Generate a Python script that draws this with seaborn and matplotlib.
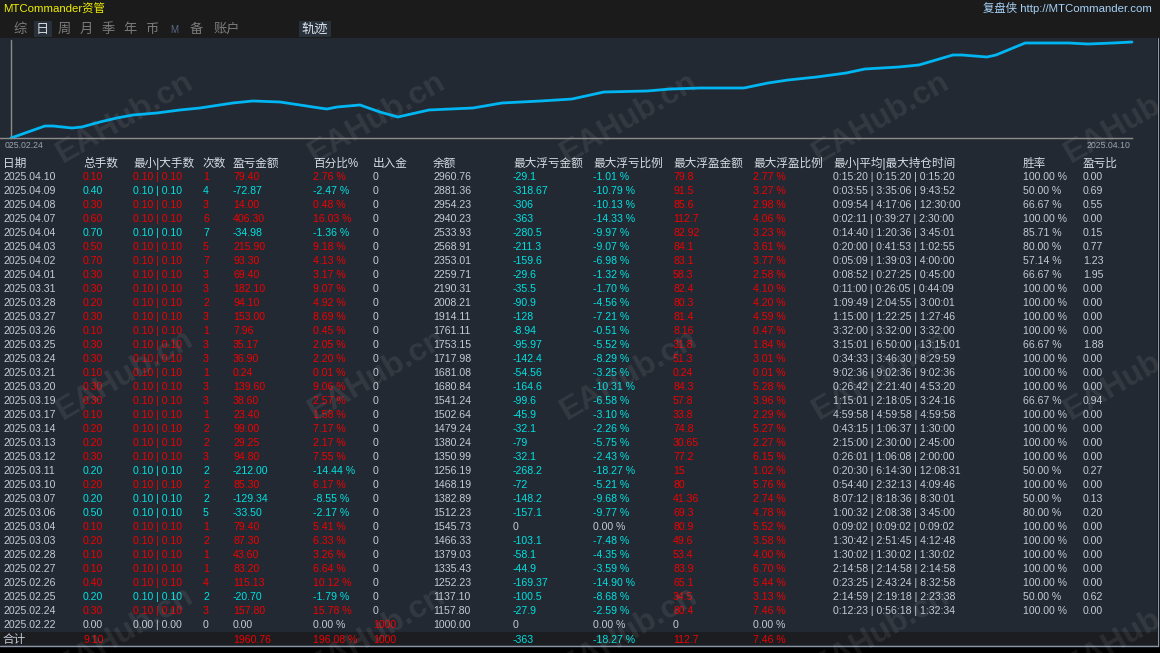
import matplotlib
matplotlib.use('Agg')
import matplotlib.pyplot as plt
from matplotlib.patches import Rectangle
import numpy as np
import pandas as pd
import seaborn as sns

# ---------------- data ----------------
dates = ['2025.04.10', '2025.04.09', '2025.04.08', '2025.04.07', '2025.04.04', '2025.04.03',
         '2025.04.02', '2025.04.01', '2025.03.31', '2025.03.28', '2025.03.27', '2025.03.26',
         '2025.03.25', '2025.03.24', '2025.03.21', '2025.03.20', '2025.03.19', '2025.03.17',
         '2025.03.14', '2025.03.13', '2025.03.12', '2025.03.11', '2025.03.10', '2025.03.07',
         '2025.03.06', '2025.03.04', '2025.03.03', '2025.02.28', '2025.02.27', '2025.02.26',
         '2025.02.25', '2025.02.24', '2025.02.22']
lots = [0.10, 0.40, 0.30, 0.60, 0.70, 0.50, 0.70, 0.30, 0.30, 0.20, 0.30, 0.10, 0.30, 0.30,
        0.10, 0.30, 0.30, 0.10, 0.20, 0.20, 0.30, 0.20, 0.20, 0.20, 0.50, 0.10, 0.20, 0.10,
        0.10, 0.40, 0.20, 0.30, 0.00]
min_lot = [0.10] * 32 + [0.00]
max_lot = [0.10] * 32 + [0.00]
counts = [1, 4, 3, 6, 7, 5, 7, 3, 3, 2, 3, 1, 3, 3, 1, 3, 3, 1, 2, 2, 3, 2, 2, 2, 5, 1, 2, 1,
          1, 4, 2, 3, 0]
pnl = [79.40, -72.87, 14.00, 406.30, -34.98, 215.90, 93.30, 69.40, 182.10, 94.10, 153.00,
       7.96, 35.17, 36.90, 0.24, 139.60, 38.60, 23.40, 99.00, 29.25, 94.80, -212.00, 85.30,
       -129.34, -33.50, 79.40, 87.30, 43.60, 83.20, 115.13, -20.70, 157.80, 0.00]
pct = [2.76, -2.47, 0.48, 16.03, -1.36, 9.18, 4.13, 3.17, 9.07, 4.92, 8.69, 0.45, 2.05, 2.20,
       0.01, 9.06, 2.57, 1.58, 7.17, 2.17, 7.55, -14.44, 6.17, -8.55, -2.17, 5.41, 6.33, 3.26,
       6.64, 10.12, -1.79, 15.78, 0.00]
deposit = [0] * 32 + [1000]
balance = [2960.76, 2881.36, 2954.23, 2940.23, 2533.93, 2568.91, 2353.01, 2259.71, 2190.31,
           2008.21, 1914.11, 1761.11, 1753.15, 1717.98, 1681.08, 1680.84, 1541.24, 1502.64,
           1479.24, 1380.24, 1350.99, 1256.19, 1468.19, 1382.89, 1512.23, 1545.73, 1466.33,
           1379.03, 1335.43, 1252.23, 1137.10, 1157.80, 1000.00]
float_loss = [-29.1, -318.67, -306, -363, -280.5, -211.3, -159.6, -29.6, -35.5, -90.9, -128,
              -8.94, -95.97, -142.4, -54.56, -164.6, -99.6, -45.9, -32.1, -79, -32.1, -268.2,
              -72, -148.2, -157.1, 0, -103.1, -58.1, -44.9, -169.37, -100.5, -27.9, 0]
float_loss_pct = [-1.01, -10.79, -10.13, -14.33, -9.97, -9.07, -6.98, -1.32, -1.70, -4.56,
                  -7.21, -0.51, -5.52, -8.29, -3.25, -10.31, -6.58, -3.10, -2.26, -5.75, -2.43,
                  -18.27, -5.21, -9.68, -9.77, 0.00, -7.48, -4.35, -3.59, -14.90, -8.68, -2.59,
                  0.00]
float_profit = [79.8, 91.5, 85.6, 112.7, 82.92, 84.1, 83.1, 58.3, 82.4, 80.3, 81.4, 8.16, 31.8,
                51.3, 0.24, 84.3, 57.8, 33.8, 74.8, 30.65, 77.2, 15, 80, 41.36, 69.3, 80.9,
                49.6, 53.4, 83.9, 65.1, 34.5, 80.4, 0]
float_profit_pct = [2.77, 3.27, 2.98, 4.06, 3.23, 3.61, 3.77, 2.58, 4.10, 4.20, 4.59, 0.47,
                    1.84, 3.01, 0.01, 5.28, 3.96, 2.29, 5.27, 2.27, 6.15, 1.02, 5.76, 2.74,
                    4.78, 5.52, 3.58, 4.00, 6.70, 5.44, 3.13, 7.46, 0.00]
hold_min = ['0:15:20', '0:03:55', '0:09:54', '0:02:11', '0:14:40', '0:20:00', '0:05:09',
            '0:08:52', '0:11:00', '1:09:49', '1:15:00', '3:32:00', '3:15:01', '0:34:33',
            '9:02:36', '0:26:42', '1:15:01', '4:59:58', '0:43:15', '2:15:00', '0:26:01',
            '0:20:30', '0:54:40', '8:07:12', '1:00:32', '0:09:02', '1:30:42', '1:30:02',
            '2:14:58', '0:23:25', '2:14:59', '0:12:23', '']
hold_avg = ['0:15:20', '3:35:06', '4:17:06', '0:39:27', '1:20:36', '0:41:53', '1:39:03',
            '0:27:25', '0:26:05', '2:04:55', '1:22:25', '3:32:00', '6:50:00', '3:46:30',
            '9:02:36', '2:21:40', '2:18:05', '4:59:58', '1:06:37', '2:30:00', '1:06:08',
            '6:14:30', '2:32:13', '8:18:36', '2:08:38', '0:09:02', '2:51:45', '1:30:02',
            '2:14:58', '2:43:24', '2:19:18', '0:56:18', '']
hold_max = ['0:15:20', '9:43:52', '12:30:00', '2:30:00', '3:45:01', '1:02:55', '4:00:00',
            '0:45:00', '0:44:09', '3:00:01', '1:27:46', '3:32:00', '13:15:01', '8:29:59',
            '9:02:36', '4:53:20', '3:24:16', '4:59:58', '1:30:00', '2:45:00', '2:00:00',
            '12:08:31', '4:09:46', '8:30:01', '3:45:00', '0:09:02', '4:12:48', '1:30:02',
            '2:14:58', '8:32:58', '2:23:38', '1:32:34', '']
win_rate = [100, 50, 66.67, 100, 85.71, 80, 57.14, 66.67, 100, 100, 100, 100, 66.67, 100, 100,
            100, 66.67, 100, 100, 100, 100, 50, 100, 50, 80, 100, 100, 100, 100, 100, 50, 100,
            None]
pl_ratio = [0.00, 0.69, 0.55, 0.00, 0.15, 0.77, 1.23, 1.95, 0.00, 0.00, 0.00, 0.00, 1.88, 0.00,
            0.00, 0.00, 0.94, 0.00, 0.00, 0.00, 0.00, 0.27, 0.00, 0.13, 0.20, 0.00, 0.00, 0.00,
            0.00, 0.00, 0.62, 0.00, None]

total_lots = 9.10
total_pnl = 1960.76
total_pct = 196.08
total_deposit = 1000
total_float_loss = -363
total_float_loss_pct = -18.27
total_float_profit = 112.7
total_float_profit_pct = 7.46

headers = ['日期', '总手数', '最小|大手数', '次数', '盈亏金额', '百分比%', '出入金', '余额',
           '最大浮亏金额', '最大浮亏比例', '最大浮盈金额', '最大浮盈比例',
           '最小|平均|最大持仓时间', '胜率', '盈亏比']
tabs = ['综', '日', '周', '月', '季', '年', '币', 'M', '备', '账户']

# equity curve: days since 2025.02.24 and equity
curve_days = [0.0, 1.36, 1.69, 2.45, 2.85, 3.57, 4.25, 4.90, 5.86, 6.78, 7.59, 8.91, 9.71,
              10.80, 11.60, 12.12, 12.68, 13.09, 14.01, 14.81, 15.53, 16.78, 18.55, 19.71,
              21.28, 22.52, 23.80, 25.53, 26.49, 27.66, 29.42, 30.39, 31.19, 32.35, 33.52,
              34.28, 35.64, 36.45, 37.81, 38.17, 39.18, 39.54, 40.71, 42.47, 43.23, 44.23, 45.0]
curve_equity = [1000, 1245, 1245, 1204, 1225, 1327, 1409, 1470, 1511, 1572, 1613, 1715, 1756,
                1735, 1674, 1633, 1592, 1633, 1674, 1531, 1429, 1572, 1613, 1715, 1756, 1796,
                1939, 1960, 2001, 2021, 2021, 2123, 2184, 2246, 2327, 2409, 2450, 2491, 2695,
                2695, 2654, 2695, 2940, 2940, 2919, 2940, 2960]
axis_start_label = '025.02.24'
axis_end_label = '2025.04.10'

# ---------------- style ----------------
sns.set_theme(style='dark')
plt.rcParams['font.family'] = ['Liberation Sans', 'Noto Sans CJK SC', 'DejaVu Sans']

RED = '#f00000'
CYAN = '#00e2e2'
GRAY = '#c3cbd6'
HEAD = '#d6dce4'
PANEL = '#232932'

W, H = 1160, 653
fig = plt.figure(figsize=(W / 100, H / 100), dpi=100)
fig.patch.set_facecolor('#000000')

bg = fig.add_axes([0, 0, 1, 1])
bg.set_xlim(0, W)
bg.set_ylim(H, 0)
bg.axis('off')


def rect(x, y, w, h, c, z=0):
    bg.add_patch(Rectangle((x, y), w, h, facecolor=c, edgecolor='none', zorder=z))


rect(0, 0, W, 38, '#1b1b1b')
rect(0, 38, 1157, 608, PANEL)
rect(0, 632, 1157, 13, '#1b1d21')
bg.plot([0, 1157.5], [645.5, 645.5], color='#8a96a6', lw=1, zorder=1)
bg.plot([1157.5, 1157.5], [38, 646], color='#8a96a6', lw=1, zorder=1)

# title bar
bg.text(3, 12, 'MTCommander资管', color='#f0f000', fontsize=8.2, ha='left', va='baseline')
bg.text(1152, 12, '复盘侠 http://MTCommander.com', color='#a6d2f8', fontsize=8.2,
        ha='right', va='baseline')

# tabs
tab_x = [20, 42, 64, 86, 108, 130, 152, 174, 196, 227]
rect(34, 21, 18, 16, '#28303a', 1)
rect(299, 21, 32, 16, '#28303a', 1)
for lbl, tx in zip(tabs, tab_x):
    col = '#d0d4da' if lbl == '日' else '#7c7c7c'
    fs = 9.5
    if lbl == 'M':
        col, fs = '#5a6a88', 7
    bg.text(tx, 30, lbl, color=col, fontsize=fs, ha='center', va='center', zorder=2)
bg.text(315, 30, '轨迹', color='#dde2ea', fontsize=9.5, ha='center', va='center', zorder=2)

# equity chart
curve = pd.DataFrame({'t': curve_days, 'v': curve_equity})
ax = fig.add_axes([0, (H - 138) / H, 1132 / W, 100 / H])
ax.set_facecolor('none')
sns.lineplot(data=curve, x='t', y='v', ax=ax, color='#00b6f2', linewidth=2.0,
             estimator=None, sort=False, legend=False)
for ln in ax.lines:
    ln.set_clip_on(False)
ax.set_xlim(-11 * 45 / 1121, 45)
ax.set_ylim(1000, 3042)
for s in ['top', 'right', 'left']:
    ax.spines[s].set_visible(False)
ax.spines['bottom'].set_color('#8c8c8c')
ax.spines['bottom'].set_linewidth(1)
ax.axvline(0, color='#8c8c8c', lw=1, ymax=0.98, zorder=1)
ax.set_xticks([])
ax.set_yticks([])
ax.set_xlabel('')
ax.set_ylabel('')
ax.grid(False)
bg.text(5, 148.5, axis_start_label, color='#9aa3ad', fontsize=6.3, ha='left', va='baseline')
bg.text(1130, 148.5, axis_end_label, color='#9aa3ad', fontsize=6.3, ha='right', va='baseline')

# table
col_x = [3, 83, 133, 203, 233, 313, 373, 433, 513, 593, 673, 753, 833, 1023, 1083]
for h, cx in zip(headers, col_x):
    bg.text(cx, 167, h, color=HEAD, fontsize=8.4, ha='left', va='baseline', zorder=3)

FS = 7.6
n = len(dates)
for i in range(n):
    y = 180 + 14 * i
    sc = RED if pnl[i] > 0 else (CYAN if pnl[i] < 0 else GRAY)
    hold = '' if hold_min[i] == '' else f'{hold_min[i]} | {hold_avg[i]} | {hold_max[i]}'
    win = '' if win_rate[i] is None else f'{win_rate[i]:.2f} %'
    rat = '' if pl_ratio[i] is None else f'{pl_ratio[i]:.2f}'
    cells = [
        (dates[i], GRAY),
        (f'{lots[i]:.2f}', sc),
        (f'{min_lot[i]:.2f} | {max_lot[i]:.2f}', sc),
        (f'{counts[i]}', sc),
        (f'{pnl[i]:.2f}', sc),
        (f'{pct[i]:.2f} %', sc),
        (f'{deposit[i]}', RED if deposit[i] > 0 else GRAY),
        (f'{balance[i]:.2f}', GRAY),
        (f'{float_loss[i]:g}', CYAN if float_loss[i] < 0 else GRAY),
        (f'{float_loss_pct[i]:.2f} %', CYAN if float_loss_pct[i] < 0 else GRAY),
        (f'{float_profit[i]:g}', RED if float_profit[i] > 0 else GRAY),
        (f'{float_profit_pct[i]:.2f} %', RED if float_profit_pct[i] > 0 else GRAY),
        (hold, GRAY),
        (win, GRAY),
        (rat, GRAY),
    ]
    for (txt, c), cx in zip(cells, col_x):
        if txt:
            bg.text(cx, y, txt, color=c, fontsize=FS, ha='left', va='baseline', zorder=3)

# totals row
ty = 643
tot = [('合计', GRAY, 0, 8.4), (f'{total_lots:.2f}', RED, 1, FS),
       (f'{total_pnl:.2f}', RED, 4, FS), (f'{total_pct:.2f} %', RED, 5, FS),
       (f'{total_deposit}', RED, 6, FS), (f'{total_float_loss:g}', CYAN, 8, FS),
       (f'{total_float_loss_pct:.2f} %', CYAN, 9, FS), (f'{total_float_profit:g}', RED, 10, FS),
       (f'{total_float_profit_pct:.2f} %', RED, 11, FS)]
for txt, c, ci, fs in tot:
    bg.text(col_x[ci], ty, txt, color=c, fontsize=fs, ha='left', va='baseline', zorder=3)

# watermark
for wy in [118, 375, 632]:
    for wx in [125, 377, 629, 881, 1133]:
        bg.text(wx, wy, 'EAHub.cn', rotation=30, ha='center', va='center', fontsize=23,
                fontweight='bold', color='white', alpha=0.08, zorder=10,
                rotation_mode='anchor')

fig.savefig('out.png', dpi=100, facecolor=fig.get_facecolor())
